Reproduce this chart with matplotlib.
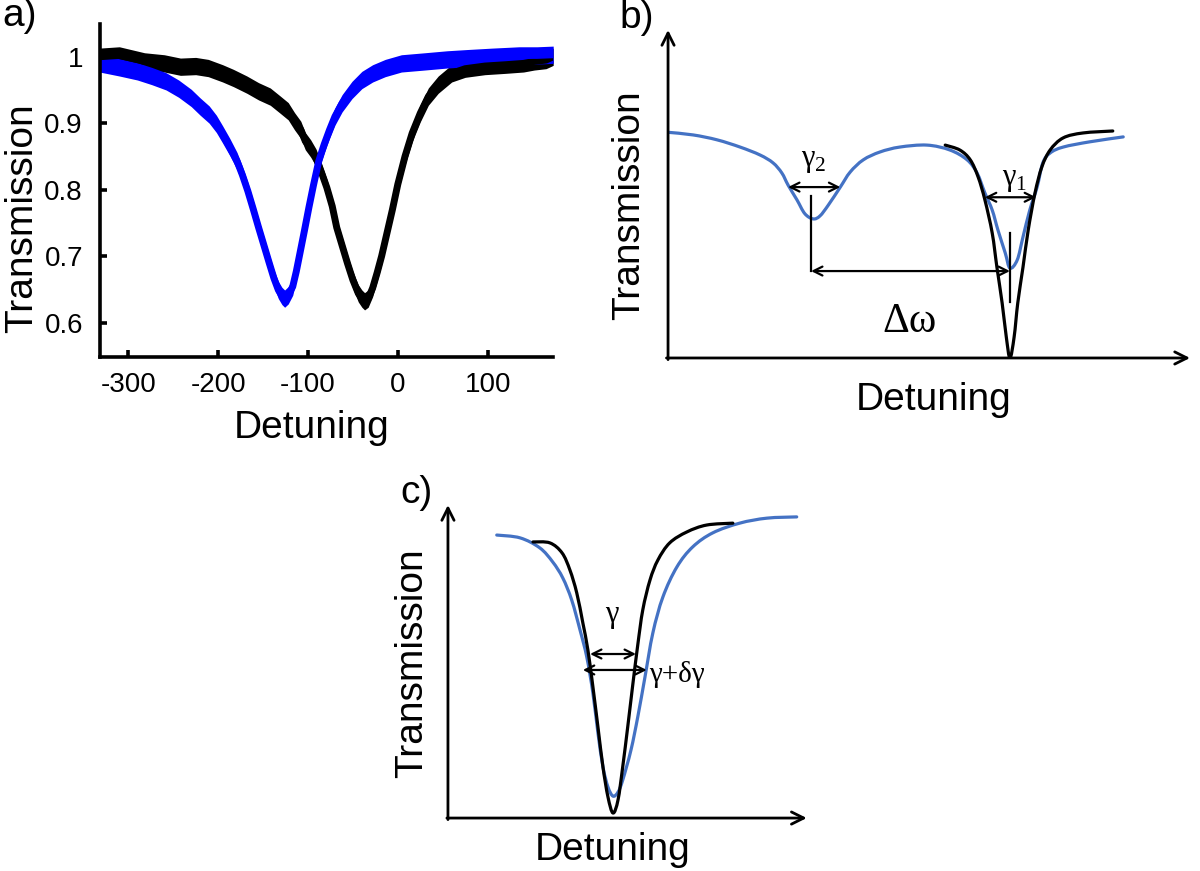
import matplotlib
matplotlib.use("Agg")
import matplotlib.pyplot as plt
from matplotlib.path import Path
from matplotlib.patches import PathPatch
import numpy as np

plt.rcParams['font.family'] = ['Liberation Sans', 'DejaVu Sans']
plt.rcParams['mathtext.fontset'] = 'custom'
plt.rcParams['mathtext.rm'] = 'Liberation Serif'
plt.rcParams['axes.unicode_minus'] = False

a_black_x = [-332, -310, -282, -260, -242, -225, -211, -195, -183, -168, -155, -142, -131, -122,
             -115, -108, -103, -97, -91, -85, -79, -73, -68, -62, -56, -50, -44, -40, -37, -33,
             -28, -23, -18, -12, -6, 0, 8, 16, 25, 34, 45, 60, 75, 97, 120, 140, 152, 165, 173]
a_black_y = [1.0, 1.002, 0.993, 0.99, 0.985, 0.986, 0.983, 0.975, 0.968, 0.958, 0.948, 0.94, 0.928, 0.918,
             0.903, 0.89, 0.873, 0.862, 0.848, 0.826, 0.803, 0.775, 0.743, 0.716, 0.689, 0.664, 0.644, 0.636, 0.632, 0.636,
             0.652, 0.675, 0.7, 0.735, 0.77, 0.808, 0.85, 0.885, 0.915, 0.94, 0.958, 0.975, 0.982, 0.986, 0.988, 0.99, 0.993, 0.995, 1.0]

a_blue_x = [-332, -310, -290, -274, -258, -244, -230, -220, -210, -202, -195, -187, -179, -173, -167,
            -161, -155, -149, -143, -138, -133, -129, -126, -122, -117, -113, -109, -104, -99, -94, -88,
            -82, -76, -70, -62, -51, -40, -28, -14, 4, 30, 55, 79, 105, 135, 155, 173]
a_blue_y = [0.99, 0.984, 0.978, 0.971, 0.963, 0.952, 0.938, 0.925, 0.913, 0.899, 0.883, 0.864, 0.843, 0.822, 0.798,
            0.771, 0.743, 0.716, 0.689, 0.667, 0.649, 0.64, 0.636, 0.641, 0.654, 0.677, 0.704, 0.738, 0.773, 0.806, 0.843,
            0.868, 0.89, 0.91, 0.93, 0.95, 0.965, 0.975, 0.983, 0.99, 0.993, 0.996, 0.998, 1.0, 1.002, 1.002, 1.003]

a_xticks = [-300, -200, -100, 0, 100]
a_yticks = [0.6, 0.7, 0.8, 0.9, 1.0]
a_yticklabels = ['0.6', '0.7', '0.8', '0.9', '1']

# ---- panel b: schematic, arbitrary units
b_blue_x = [0.0, 0.48, 0.94, 1.38, 1.76, 2.01, 2.18, 2.30, 2.47, 2.62, 2.78, 2.91, 3.07, 3.30, 3.49,
            3.74, 4.06, 4.44, 4.96, 5.40, 5.73, 5.92, 6.07, 6.21, 6.32, 6.46, 6.55, 6.69, 6.80, 6.93,
            7.07, 7.18, 7.32, 7.57, 8.08, 8.72]
b_blue_y = [6.88, 6.80, 6.65, 6.43, 6.19, 5.95, 5.64, 5.27, 4.82, 4.40, 4.24, 4.33, 4.66, 5.21, 5.67,
            6.04, 6.28, 6.43, 6.49, 6.34, 6.04, 5.64, 5.03, 4.51, 3.90, 3.20, 2.74, 2.99, 3.69, 4.51,
            5.21, 5.95, 6.25, 6.43, 6.59, 6.74]
b_black_x = [5.31, 5.59, 5.79, 5.94, 6.07, 6.21, 6.30, 6.40, 6.48, 6.55, 6.63, 6.70, 6.80, 6.90,
             7.03, 7.16, 7.32, 7.57, 7.95, 8.52]
b_black_y = [6.49, 6.34, 6.04, 5.52, 4.82, 3.81, 2.77, 1.68, 0.64, 0.0, 0.64, 1.68, 2.77, 3.90,
             5.03, 5.82, 6.34, 6.71, 6.86, 6.92]

# ---- panel c: schematic, arbitrary units
c_blue_x = [1.36, 2.01, 2.56, 2.92, 3.20, 3.45, 3.68, 3.87, 4.04, 4.18, 4.32, 4.46, 4.60, 4.74, 4.87,
            5.10, 5.29, 5.49, 5.71, 5.99, 6.38, 6.82, 7.38, 8.13, 8.89, 9.72]
c_blue_y = [9.04, 8.95, 8.63, 8.18, 7.67, 6.96, 6.01, 5.14, 3.99, 2.72, 1.63, 0.99, 0.70, 0.83, 1.21,
            2.17, 3.23, 4.50, 5.91, 7.06, 8.02, 8.66, 9.11, 9.42, 9.58, 9.62]
c_black_x = [2.37, 2.84, 3.18, 3.40, 3.59, 3.76, 3.90, 4.04, 4.18, 4.32, 4.46, 4.60, 4.74, 4.87,
             5.01, 5.15, 5.29, 5.43, 5.63, 5.85, 6.18, 6.66, 7.21, 7.94]
c_black_y = [8.82, 8.79, 8.47, 7.92, 7.19, 6.23, 5.37, 4.19, 2.91, 1.63, 0.67, 0.16, 0.58, 1.63,
             2.91, 4.25, 5.53, 6.65, 7.60, 8.24, 8.79, 9.14, 9.36, 9.42]

BLUE_A = '#0000FF'
BLUE_S = '#4472C4'
LABEL_FS = 28
SERIF = ['Liberation Serif', 'DejaVu Serif']

fig = plt.figure(figsize=(12, 8.71), dpi=100)

# ================= a)
ax = fig.add_axes([0.083, 0.590, 0.378, 0.383])
NOISE = 0.013  # half-thickness of the noisy trace
for xs, ys, col in [(a_black_x, a_black_y, 'black'), (a_blue_x, a_blue_y, BLUE_A)]:
    ys = np.array(ys)
    ax.fill_between(xs, ys - NOISE, ys + NOISE, color=col, lw=0)
    ax.plot(xs, ys, color=col, lw=5, solid_joinstyle='round')
ax.set_xlim(-332, 173)
ax.set_ylim(0.548, 1.05)
ax.set_xticks(a_xticks)
ax.set_yticks(a_yticks)
ax.set_yticklabels(a_yticklabels)
for s in ['top', 'right']:
    ax.spines[s].set_visible(False)
for s in ['left', 'bottom']:
    ax.spines[s].set_linewidth(2.6)
ax.tick_params(direction='in', length=5, width=2.6, labelsize=20)
ax.tick_params(axis='x', pad=11)
ax.tick_params(axis='y', pad=12)
fig.text(22 / 1200, 1 - 218 / 871, 'Transmission', fontsize=LABEL_FS, rotation=90,
         ha='center', va='center')
fig.text(312 / 1200, 1 - 428 / 871, 'Detuning', fontsize=LABEL_FS, ha='center', va='center')
fig.text(20 / 1200, 1 - 16 / 871, 'a)', fontsize=LABEL_FS, ha='center', va='center')


def smooth_curve(s, xs, ys, color):
    # draw a Catmull-Rom curve through the read points (passes through every point)
    p = np.column_stack([xs, ys])
    verts = [p[0]]
    codes = [Path.MOVETO]
    for i in range(len(p) - 1):
        p0 = p[i - 1] if i > 0 else p[i]
        p3 = p[i + 2] if i + 2 < len(p) else p[i + 1]
        c1 = p[i] + (p[i + 1] - p0) / 6
        c2 = p[i + 1] - (p3 - p[i]) / 6
        verts += [c1, c2, p[i + 1]]
        codes += [Path.CURVE4] * 3
    s.add_patch(PathPatch(Path(verts, codes), fill=False, edgecolor=color, lw=2.3,
                          capstyle='round', joinstyle='round'))


def schematic_axes(rect):
    s = fig.add_axes(rect)
    s.set_xlim(0, 10)
    s.set_ylim(0, 10)
    s.axis('off')
    arrow = dict(arrowstyle='->', lw=2.0, color='black', mutation_scale=22,
                 shrinkA=0, shrinkB=0)
    s.annotate('', xy=(0, 10), xytext=(0, -0.05), arrowprops=arrow, annotation_clip=False)
    s.annotate('', xy=(10, 0), xytext=(-0.03, 0), arrowprops=arrow, annotation_clip=False)
    return s


def dbl(s, x0, x1, y, style='<->'):
    s.annotate('', xy=(x1, y), xytext=(x0, y),
               arrowprops=dict(arrowstyle=style, lw=1.6, color='black',
                               mutation_scale=16, shrinkA=0, shrinkB=0))


# ================= b)
bx = schematic_axes([0.5567, 0.589, 0.435, 0.3766])
smooth_curve(bx, b_blue_x, b_blue_y, BLUE_S)
smooth_curve(bx, b_black_x, b_black_y, 'black')
dbl(bx, 2.30, 3.30, 5.21)
dbl(bx, 6.07, 7.05, 4.90)
bx.plot([2.74, 2.74], [4.94, 2.65], color='black', lw=1.6)
dbl(bx, 2.74, 6.55, 2.65)
bx.plot([6.55, 6.55], [3.81, 1.71], color='black', lw=1.6)
bx.text(2.80, 6.05, r'$\mathrm{γ}_{\mathrm{2}}$', fontsize=22, ha='center', va='center')
bx.text(6.63, 5.45, r'$\mathrm{γ}_{\mathrm{1}}$', fontsize=22, ha='center', va='center')
bx.text(4.62, 1.1, 'Δω', fontsize=30, ha='center', va='center', family=SERIF)
bx.text(5.08, -1.28, 'Detuning', fontsize=LABEL_FS, ha='center', va='center')
bx.text(-0.75, 4.66, 'Transmission', fontsize=LABEL_FS, ha='center', va='center', rotation=90)
fig.text(637 / 1200, 1 - 18 / 871, 'b)', fontsize=LABEL_FS, ha='center', va='center')

# ================= c)
cx = schematic_axes([0.3733, 0.0608, 0.299, 0.3594])
smooth_curve(cx, c_blue_x, c_blue_y, BLUE_S)
smooth_curve(cx, c_black_x, c_black_y, 'black')
dbl(cx, 3.96, 5.24, 5.24)
dbl(cx, 3.76, 5.54, 4.73)
cx.text(4.57, 6.49, 'γ', fontsize=22, ha='center', va='center', family=SERIF)
cx.text(5.60, 4.60, 'γ+δγ', fontsize=21, ha='left', va='center', family=SERIF)
cx.text(4.6, -1.02, 'Detuning', fontsize=LABEL_FS, ha='center', va='center')
cx.text(-1.0, 4.95, 'Transmission', fontsize=LABEL_FS, ha='center', va='center', rotation=90)
fig.text(417 / 1200, 1 - 493 / 871, 'c)', fontsize=LABEL_FS, ha='center', va='center')

fig.savefig('out.png', dpi=100)
